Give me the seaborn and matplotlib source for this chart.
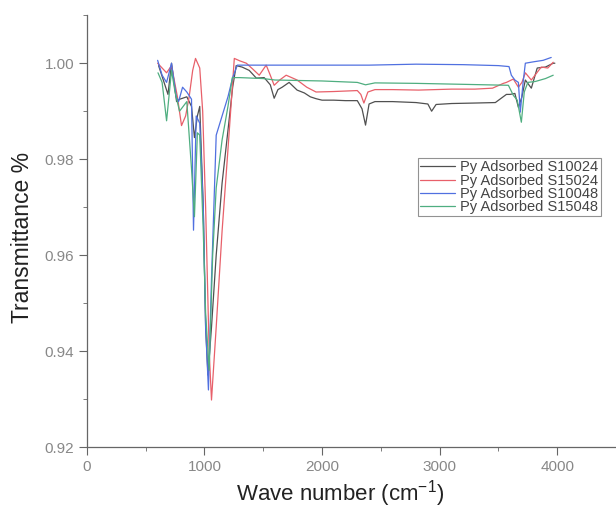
import numpy as np
import pandas as pd
import matplotlib
matplotlib.use("Agg")
import matplotlib.pyplot as plt
import seaborn as sns
from matplotlib.ticker import MultipleLocator

names = ["Py Adsorbed S10024", "Py Adsorbed S15024", "Py Adsorbed S10048", "Py Adsorbed S15048"]
colors = ["#505050", "#e8606a", "#5070e0", "#4fae80"]

# S10024 (black)
x_black = [610, 650, 690, 720, 763, 790, 850, 890, 915, 940, 960, 990, 1010, 1030, 1060, 1100, 1150, 1200, 1240, 1270,
           1320, 1381, 1441, 1508, 1560, 1593, 1625, 1661, 1720, 1788, 1850, 1900, 1950, 2000, 2100, 2200, 2300, 2340,
           2370, 2400, 2450, 2600, 2800, 2900, 2932, 2970, 3102, 3300, 3474, 3568, 3600, 3640, 3670, 3700, 3729, 3780,
           3830, 3900, 3966, 3980]
y_black = [0.9995, 0.9965, 0.9935, 1.0000, 0.9920, 0.9925, 0.9930, 0.9910, 0.9845, 0.9890, 0.9910, 0.9700, 0.9450,
           0.9350, 0.9450, 0.9600, 0.9750, 0.9860, 0.9950, 0.9995, 0.9992, 0.9985, 0.9969, 0.9970, 0.9955, 0.9927,
           0.9945, 0.9950, 0.9960, 0.9944, 0.9938, 0.9930, 0.9926, 0.9923, 0.9923, 0.9922, 0.9922, 0.9905, 0.9871,
           0.9915, 0.9920, 0.9920, 0.9918, 0.9915, 0.9900, 0.9914, 0.9916, 0.9917, 0.9918, 0.9935, 0.9935, 0.9937,
           0.9908, 0.9930, 0.9965, 0.9948, 0.9990, 0.9992, 1.0000, 1.0000]

# S15024 (red)
x_red = [602, 640, 678, 720, 770, 805, 840, 870, 900, 924, 960, 985, 1010, 1040, 1060, 1100, 1150, 1200, 1254, 1300,
         1356, 1410, 1466, 1525, 1560, 1593, 1640, 1695, 1788, 1870, 1949, 2100, 2200, 2300, 2330, 2356, 2390, 2450,
         2600, 2822, 3102, 3300, 3450, 3542, 3568, 3627, 3670, 3700, 3729, 3780, 3864, 3920, 3966]
y_red = [1.0000, 0.9990, 0.9980, 0.9995, 0.9930, 0.9870, 0.9890, 0.9930, 0.9985, 1.0010, 0.9990, 0.9900, 0.9700,
         0.9400, 0.9298, 0.9450, 0.9650, 0.9820, 1.0010, 1.0005, 1.0000, 0.9988, 0.9975, 0.9996, 0.9975, 0.9954,
         0.9965, 0.9975, 0.9965, 0.9950, 0.9940, 0.9941, 0.9942, 0.9943, 0.9935, 0.9917, 0.9940, 0.9945, 0.9945,
         0.9944, 0.9946, 0.9946, 0.9948, 0.9958, 0.9960, 0.9967, 0.9950, 0.9960, 0.9980, 0.9965, 0.9992, 0.9990,
         1.0002]

# S10048 (blue)
x_blue = [602, 640, 678, 720, 760, 780, 814, 850, 890, 907, 930, 960, 990, 1010, 1034, 1060, 1080, 1100, 1150, 1200,
          1240, 1280, 1400, 1600, 1800, 2000, 2400, 2800, 3200, 3500, 3590, 3610, 3640, 3670, 3686, 3710, 3729, 3800,
          3880, 3949]
y_blue = [1.0006, 0.9975, 0.9960, 1.0000, 0.9930, 0.9920, 0.9950, 0.9940, 0.9925, 0.9652, 0.9890, 0.9875, 0.9700,
          0.9450, 0.9319, 0.9550, 0.9700, 0.9850, 0.9890, 0.9930, 0.9970, 0.9996, 0.9996, 0.9996, 0.9996, 0.9996,
          0.9996, 0.9998, 0.9997, 0.9995, 0.9993, 0.9975, 0.9965, 0.9960, 0.9898, 0.9960, 1.0000, 1.0003, 1.0006,
          1.0012]

# S15048 (green)
x_green = [605, 640, 678, 720, 750, 788, 850, 890, 915, 940, 960, 990, 1010, 1040, 1070, 1100, 1150, 1200, 1237,
           1300, 1400, 1500, 1600, 1800, 2000, 2300, 2370, 2450, 2800, 3200, 3585, 3627, 3660, 3695, 3720, 3750, 3815,
           3900, 3966]
y_green = [0.9980, 0.9960, 0.9880, 0.9985, 0.9940, 0.9900, 0.9920, 0.9780, 0.9680, 0.9855, 0.9850, 0.9650, 0.9480,
           0.9360, 0.9600, 0.9740, 0.9840, 0.9910, 0.9970, 0.9970, 0.9969, 0.9968, 0.9965, 0.9964, 0.9963, 0.9960,
           0.9955, 0.9959, 0.9958, 0.9956, 0.9954, 0.9933, 0.9923, 0.9877, 0.9940, 0.9960, 0.9962, 0.9968, 0.9975]

frames = []
for name, xs, ys in zip(names, [x_black, x_red, x_blue, x_green], [y_black, y_red, y_blue, y_green]):
    frames.append(pd.DataFrame({"x": xs, "y": ys, "sample": name}))
df = pd.concat(frames, ignore_index=True)

sns.set_style("ticks")
plt.rcParams["font.family"] = ["Liberation Sans", "DejaVu Sans"]

fig = plt.figure(figsize=(6.16, 5.08), dpi=100)
ax = fig.add_axes([0.141, 0.120, 0.859, 0.850])
sns.lineplot(data=df, x="x", y="y", hue="sample", palette=dict(zip(names, colors)),
             estimator=None, sort=False, linewidth=0.9, ax=ax)

ax.set_xlim(0, 4500)
ax.set_ylim(0.92, 1.01)
ax.xaxis.set_major_locator(MultipleLocator(1000))
ax.xaxis.set_minor_locator(MultipleLocator(500))
ax.yaxis.set_major_locator(MultipleLocator(0.02))
ax.yaxis.set_minor_locator(MultipleLocator(0.01))
ax.yaxis.set_major_formatter(plt.FuncFormatter(lambda v, p: f"{v:.2f}"))
for s in ["top", "right"]:
    ax.spines[s].set_visible(False)
for s in ["left", "bottom"]:
    ax.spines[s].set_color("#666666")
    ax.spines[s].set_linewidth(0.9)
ax.tick_params(which="both", direction="out", colors="#666666", labelcolor="#888888", labelsize=11)
ax.tick_params(which="major", length=6, pad=3)
ax.tick_params(which="minor", length=3)
ax.set_xlabel("Wave number (cm$^{\\mathregular{-1}}$)", fontsize=16, color="#222222")
ax.set_ylabel("Transmittance %", fontsize=16.5, color="#222222")
ax.xaxis.set_label_coords((340 - 87) / 529, -0.072)
ax.yaxis.set_label_coords(-0.100, (447 - 237) / 432)

leg = ax.legend(loc="upper left", bbox_to_anchor=(0.626, 0.669), fontsize=10.5, frameon=True,
                handlelength=2.4, handletextpad=0.35, borderpad=0.15, labelspacing=-0.05,
                fancybox=False, borderaxespad=0)
leg.get_frame().set_edgecolor("#777777")
leg.get_frame().set_linewidth(0.8)
for t in leg.get_texts():
    t.set_color("#444444")

fig.savefig("out.png", dpi=100)
